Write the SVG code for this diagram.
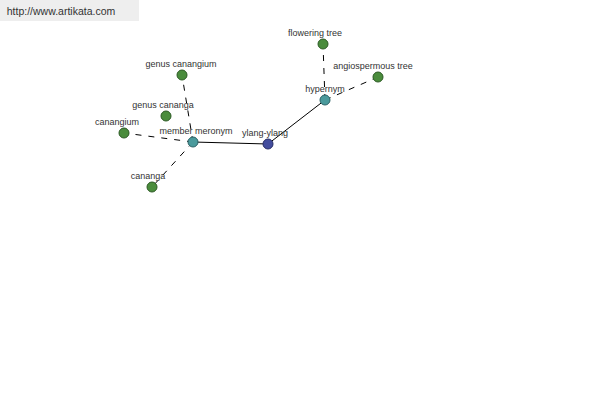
<svg xmlns="http://www.w3.org/2000/svg" width="600" height="400" viewBox="0 0 600 400">
<style>
text{font-family:"Liberation Sans",Arial,sans-serif;font-size:9px;fill:#333;text-anchor:middle}
.e{stroke:#000;stroke-width:1;fill:none}
.d{stroke-dasharray:6,7}
.g{fill:#4a8c3c;stroke:#2c5a24;stroke-width:1}
.t{fill:#4a9a9c;stroke:#2a6266;stroke-width:1}
.b{fill:#434d9e;stroke:#262c66;stroke-width:1}
</style>
<rect x="0" y="0" width="139" height="21" fill="#eeeeee"/>
<text x="61" y="15" style="font-size:10.5px;fill:#333">http://www.artikata.com</text>
<g id="connectors">
<line class="e" x1="193" y1="142" x2="268" y2="144"/>
<line class="e" x1="268" y1="144" x2="325" y2="100"/>
<line class="e d" x1="325" y1="100" x2="323" y2="44"/>
<line class="e d" x1="325" y1="100" x2="378" y2="77"/>
<line class="e d" x1="193" y1="142" x2="182" y2="75"/>
<line class="e d" x1="193" y1="142" x2="124" y2="133"/>
<line class="e d" x1="193" y1="142" x2="152" y2="187"/>
</g>
<g id="ylang-ylang"><circle class="b" cx="268" cy="144" r="5"/><text x="265" y="136">ylang-ylang</text></g>
<g id="member-meronym"><circle class="t" cx="193" cy="142" r="5"/><text x="196" y="134">member meronym</text></g>
<g id="hypernym"><circle class="t" cx="325" cy="100" r="5"/><text x="325" y="92">hypernym</text></g>
<g id="flowering-tree"><circle class="g" cx="323" cy="44" r="5"/><text x="315" y="36">flowering tree</text></g>
<g id="angiospermous-tree"><circle class="g" cx="378" cy="77" r="5"/><text x="373" y="69">angiospermous tree</text></g>
<g id="genus-canangium"><circle class="g" cx="182" cy="75" r="5"/><text x="181" y="67">genus canangium</text></g>
<g id="genus-cananga"><circle class="g" cx="166" cy="116" r="5"/><text x="163" y="108">genus cananga</text></g>
<g id="canangium"><circle class="g" cx="124" cy="133" r="5"/><text x="117" y="125">canangium</text></g>
<g id="cananga"><circle class="g" cx="152" cy="187" r="5"/><text x="148" y="179">cananga</text></g>
</svg>
